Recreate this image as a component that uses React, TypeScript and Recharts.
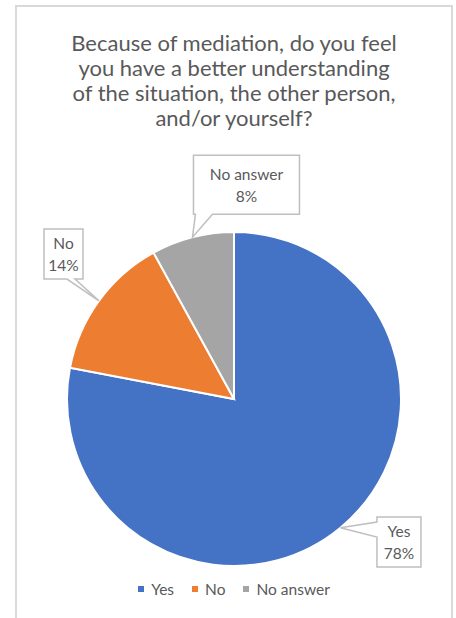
import React from "react";
import { PieChart, Pie, Cell } from "recharts";

const categories = ["Yes", "No", "No answer"];
const shares = [78, 14, 8];
const colors = ["#4472C4", "#ED7D31", "#A5A5A5"];
const titleLines = [
  "Because of mediation, do you feel",
  "you have a better understanding",
  "of the situation, the other person,",
  "and/or yourself?",
];

const data = categories.map((name, i) => ({ name, value: shares[i] }));

const FONT = "Lato, 'Open Sans', sans-serif";
const TEXT = "#595959";
const RADIAN = Math.PI / 180;

type Callout = {
  dx: number;
  dy: number;
  w: number;
  h: number;
  edge: "bottom" | "left";
  b0: number;
  b1: number;
};

const callouts: Record<string, Callout> = {
  Yes: { dx: 58.5, dy: 14.4, w: 44, h: 50, edge: "left", b0: 5, b1: 20 },
  No: { dx: -35.4, dy: -46.8, w: 39, h: 50, edge: "bottom", b0: 23, b1: 31 },
  "No answer": { dx: 54, dy: -52.5, w: 106, h: 59, edge: "bottom", b0: 2, b1: 19 },
};

const renderLabel = (props: any) => {
  const { cx, cy, midAngle, outerRadius, name, percent } = props;
  const tx = cx + outerRadius * Math.cos(-midAngle * RADIAN);
  const ty = cy + outerRadius * Math.sin(-midAngle * RADIAN);
  const c = callouts[name];
  const bx = tx + c.dx - c.w / 2;
  const by = ty + c.dy - c.h / 2;
  let d: string;
  if (c.edge === "bottom") {
    d = `M${bx},${by} H${bx + c.w} V${by + c.h} H${bx + c.b1} L${tx},${ty} L${bx + c.b0},${by + c.h} H${bx} Z`;
  } else {
    d = `M${bx},${by} H${bx + c.w} V${by + c.h} H${bx} V${by + c.b1} L${tx},${ty} L${bx},${by + c.b0} Z`;
  }
  const mx = bx + c.w / 2;
  const my = by + c.h / 2;
  return (
    <g>
      <path d={d} fill="#ffffff" stroke="#bfbfbf" strokeWidth={1.5} />
      <text x={mx} y={my - 11} textAnchor="middle" dominantBaseline="central" fill={TEXT} fontSize={15.5} fontFamily={FONT}>
        {name}
      </text>
      <text x={mx} y={my + 11} textAnchor="middle" dominantBaseline="central" fill={TEXT} fontSize={15.5} fontFamily={FONT}>
        {`${Math.round(percent * 100)}%`}
      </text>
    </g>
  );
};

export default function App() {
  return (
    <div style={{ position: "fixed", left: 0, top: 0, width: 456, height: 618, overflow: "hidden", background: "#fff" }}>
      <style>{`html,body{margin:0;padding:0;overflow:hidden;}`}</style>
      <div
        style={{
          position: "absolute",
          left: 15,
          top: 5,
          width: 438,
          height: 700,
          border: "2px solid #d9d9d9",
          boxSizing: "border-box",
        }}
      />
      <div
        style={{
          position: "absolute",
          left: 15,
          top: 30,
          width: 438,
          textAlign: "center",
          fontFamily: FONT,
          fontSize: 22,
          lineHeight: "25px",
          color: TEXT,
        }}
      >
        {titleLines.map((t) => (
          <div key={t} style={{ whiteSpace: "nowrap" }}>{t}</div>
        ))}
      </div>
      <div style={{ position: "absolute", left: 0, top: 0 }}>
        <PieChart width={456} height={618} margin={{ top: 0, right: 0, bottom: 0, left: 0 }}>
          <Pie
            data={data}
            dataKey="value"
            nameKey="name"
            cx={234}
            cy={399}
            outerRadius={167}
            startAngle={90}
            endAngle={-270}
            stroke="#ffffff"
            strokeWidth={2}
            label={renderLabel}
            labelLine={false}
            isAnimationActive={false}
          >
            {data.map((d, i) => (
              <Cell key={d.name} fill={colors[i]} />
            ))}
          </Pie>
        </PieChart>
      </div>
      <div
        style={{
          position: "absolute",
          left: 15,
          top: 580,
          width: 438,
          display: "flex",
          justifyContent: "center",
          alignItems: "center",
          fontFamily: FONT,
          fontSize: 15.5,
          color: TEXT,
        }}
      >
        {categories.map((c, i) => (
          <div key={c} style={{ display: "flex", alignItems: "center", marginRight: i < categories.length - 1 ? 18 : 0 }}>
            <span style={{ display: "inline-block", width: 6, height: 6, background: colors[i], marginRight: 7 }} />
            <span>{c}</span>
          </div>
        ))}
      </div>
    </div>
  );
}
